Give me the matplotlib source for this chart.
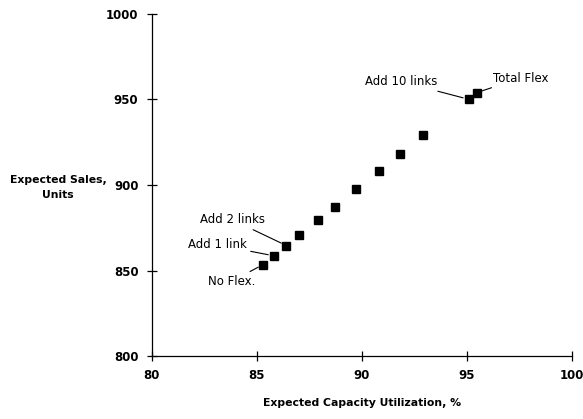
import matplotlib
matplotlib.use('Agg')
import matplotlib.pyplot as plt

# expected capacity utilization (%) vs expected sales for each flexibility level
utilization = [85.31, 85.81, 86.41, 87.03, 87.93, 88.74, 89.73, 90.82, 91.82, 92.93, 95.08, 95.48]
sales = [853.5, 858.6, 864.6, 870.7, 879.6, 887.3, 897.5, 908.3, 918.1, 929.2, 950.0, 953.9]

# (point index, label, text x, text y, ha)
labels = [
    (0, 'No Flex.', 83.8, 843.6, 'center'),
    (1, 'Add 1 link', 84.52, 865.0, 'right'),
    (2, 'Add 2 links', 85.39, 879.6, 'right'),
    (10, 'Add 10 links', 93.59, 960.3, 'right'),
    (11, 'Total Flex', 96.25, 962.4, 'left'),
]

x_ticks = [80, 85, 90, 95, 100]
y_ticks = [800, 850, 900, 950, 1000]

fig = plt.figure(figsize=(5.83, 4.19), dpi=100)
ax = fig.add_axes([0.260, 0.150, 0.721, 0.8175])

ax.plot(utilization, sales, 's', color='black', ms=5.5, ls='none')

for i, text, tx, ty, ha in labels:
    ax.annotate(text, xy=(utilization[i], sales[i]), xytext=(tx, ty),
                ha=ha, va='center', fontsize=8.5,
                arrowprops=dict(arrowstyle='-', color='black', lw=0.8,
                                shrinkA=1, shrinkB=4))

ax.set_xlim(80, 100)
ax.set_ylim(800, 1000)
ax.set_xticks(x_ticks)
ax.set_yticks(y_ticks)
ax.tick_params(direction='inout', length=7, width=0.9, labelsize=8.5, pad=6)
for lab in ax.get_xticklabels() + ax.get_yticklabels():
    lab.set_fontweight('bold')
ax.spines['top'].set_visible(False)
ax.spines['right'].set_visible(False)
for s in ('left', 'bottom'):
    ax.spines[s].set_linewidth(0.9)

ax.set_xlabel('Expected Capacity Utilization, %', fontsize=7.8, fontweight='bold', labelpad=11)
fig.text(0.1, 0.553, 'Expected Sales,\nUnits', ha='center', va='center',
         fontsize=7.8, fontweight='bold', linespacing=1.6)

fig.savefig('out.png', dpi=100)
